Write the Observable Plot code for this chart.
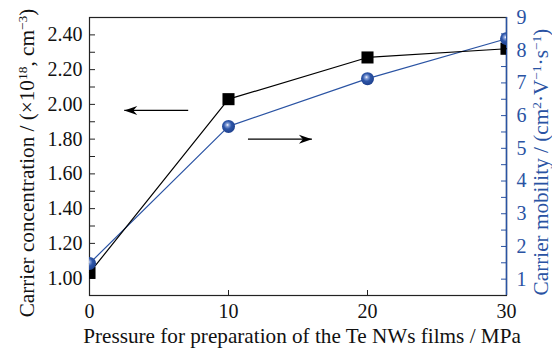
<!DOCTYPE html>
<html>
<head>
<meta charset="utf-8">
<script src="https://cdn.jsdelivr.net/npm/d3@7"></script>
<script src="https://cdn.jsdelivr.net/npm/@observablehq/plot@0.6"></script>
<style>
  html, body { margin: 0; padding: 0; background: #fff; }
  #chart { width: 552px; height: 349px; }
  #chart svg text { font-family: "Liberation Serif", "Times New Roman", serif; }
</style>
</head>
<body>
<div id="chart"></div>
<script>
// ---- data ----
const pressure = [0, 10, 20, 30];                 // MPa
const concentration = [1.03, 2.03, 2.27, 2.32];   // ×10^18 cm^-3 (left axis)
const mobility = [1.48, 5.67, 7.13, 8.35];        // cm^2 V^-1 s^-1 (right axis)
const xTicks = [0, 10, 20, 30];
const leftMajor = [1.0, 1.2, 1.4, 1.6, 1.8, 2.0, 2.2, 2.4];
const leftMinor = [1.1, 1.3, 1.5, 1.7, 1.9, 2.1, 2.3];
const rightMajor = [1, 2, 3, 4, 5, 6, 7, 8, 9];
const rightMinor = [1.5, 2.5, 3.5, 4.5, 5.5, 6.5, 7.5, 8.5];
const leftDomain = [0.9, 2.5];
const rightDomain = [0.5, 9];
// arrows in data units (x from tail to tip, y on left axis)
const arrowTail = [7.1, 11.4];
const arrowTip = [2.5, 16.0];
const arrowY = [1.965, 1.80];

const blue = "#2a53a3";
const font = "'Liberation Serif', 'Times New Roman', serif";

// map right-axis values onto left scale
const toLeft = v => leftDomain[0] + (v - rightDomain[0]) * (leftDomain[1] - leftDomain[0]) / (rightDomain[1] - rightDomain[0]);
const toRight = v => rightDomain[0] + (v - leftDomain[0]) * (rightDomain[1] - rightDomain[0]) / (leftDomain[1] - leftDomain[0]);

const conc = pressure.map((p, i) => ({p, v: concentration[i]}));
const mob = pressure.map((p, i) => ({p, v: toLeft(mobility[i])}));
const arrows = arrowTail.map((t, i) => ({x1: t, x2: arrowTip[i], y: arrowY[i], rot: arrowTip[i] > t ? 0 : 180}));

const stealth = {
  draw(ctx) {
    ctx.moveTo(0, 0);
    ctx.lineTo(-13, -4.5);
    ctx.lineTo(-9, 0);
    ctx.lineTo(-13, 4.5);
    ctx.closePath();
  }
};

const chart = Plot.plot({
  width: 552,
  height: 349,
  marginLeft: 89,
  marginRight: 46,
  marginTop: 17,
  marginBottom: 54,
  style: {fontFamily: font, background: "#fff"},
  x: {domain: [0, 30]},
  y: {domain: leftDomain},
  marks: [
    // x axis
    Plot.axisX({ticks: xTicks, tickSize: -5, tickFormat: () => "", stroke: "#222"}),
    Plot.axisX({ticks: xTicks, tickSize: 0, tickPadding: 8, fontSize: 20, fontFamily: font, fill: "#111", tickFormat: d => String(d)}),
    // left axis
    Plot.axisY({anchor: "left", ticks: leftMajor.concat(leftMinor), tickSize: -6, tickFormat: () => "", stroke: "#222"}),
    Plot.axisY({anchor: "left", ticks: leftMajor, tickSize: 0, tickPadding: 7, fontSize: 20, fontFamily: font, fill: "#111", tickFormat: d3.format(".2f")}),
    // right axis
    Plot.axisY({anchor: "right", ticks: rightMajor.concat(rightMinor).map(toLeft), tickSize: -6, tickFormat: () => "", stroke: blue}),
    Plot.axisY({anchor: "right", ticks: rightMajor.map(toLeft), tickSize: 0, tickPadding: 10, fontSize: 20, fontFamily: font, fill: blue, tickFormat: d => String(Math.round(toRight(d)))}),
    // frame
    Plot.frame({stroke: "#222", strokeWidth: 1.2}),
    Plot.ruleX([30], {stroke: blue, strokeWidth: 1.5}),
    // series
    Plot.line(mob, {x: "p", y: "v", stroke: blue, strokeWidth: 1.2}),
    Plot.line(conc, {x: "p", y: "v", stroke: "#000", strokeWidth: 1.2}),
    Plot.dot(conc, {x: "p", y: "v", symbol: "square", r: 6.8, fill: "#000", stroke: "none", clip: true}),
    Plot.dot(mob, {x: "p", y: "v", r: 6.5, fill: "url(#ballGrad)", stroke: "none", clip: true}),
    // arrows
    Plot.link(arrows, {x1: "x1", x2: "x2", y1: "y", y2: "y", stroke: "#000", strokeWidth: 1.3}),
    Plot.dot(arrows, {x: "x2", y: "y", symbol: stealth, rotate: "rot", fill: "#000", stroke: "none"})
  ]
});

const svg = d3.select(chart);
const defs = svg.insert("defs", ":first-child");
const g = defs.append("radialGradient").attr("id", "ballGrad")
  .attr("cx", "0.45").attr("cy", "0.42").attr("r", "0.6").attr("fx", "0.42").attr("fy", "0.38");
g.append("stop").attr("offset", "0").attr("stop-color", "#ffffff");
g.append("stop").attr("offset", "0.18").attr("stop-color", "#8ea6dc");
g.append("stop").attr("offset", "0.5").attr("stop-color", "#2e56a8");
g.append("stop").attr("offset", "1").attr("stop-color", "#1d3f8c");

function addTitle(parts, x, y, rotate, color) {
  const t = svg.append("text")
    .attr("transform", `translate(${x},${y})` + (rotate ? ` rotate(${rotate})` : ""))
    .attr("text-anchor", "middle")
    .attr("font-family", font)
    .attr("font-size", 21.2)
    .attr("fill", color);
  parts.forEach(([s, sup]) => {
    const ts = t.append("tspan").text(s);
    if (sup) ts.attr("baseline-shift", "super").attr("font-size", 13.5);
  });
}

addTitle([["Pressure for preparation of the Te NWs films / MPa"]], 302, 343, 0, "#111");
addTitle([["Carrier concentration / (×10"], ["18", true], [", cm"], ["−3", true], [")"]], 34, 163, -90, "#111");
addTitle([["Carrier mobility / (cm"], ["2", true], ["·V"], ["−1", true], ["·s"], ["−1", true], [")"]], 548, 162, -90, blue);

document.getElementById("chart").appendChild(chart);
</script>
</body>
</html>
